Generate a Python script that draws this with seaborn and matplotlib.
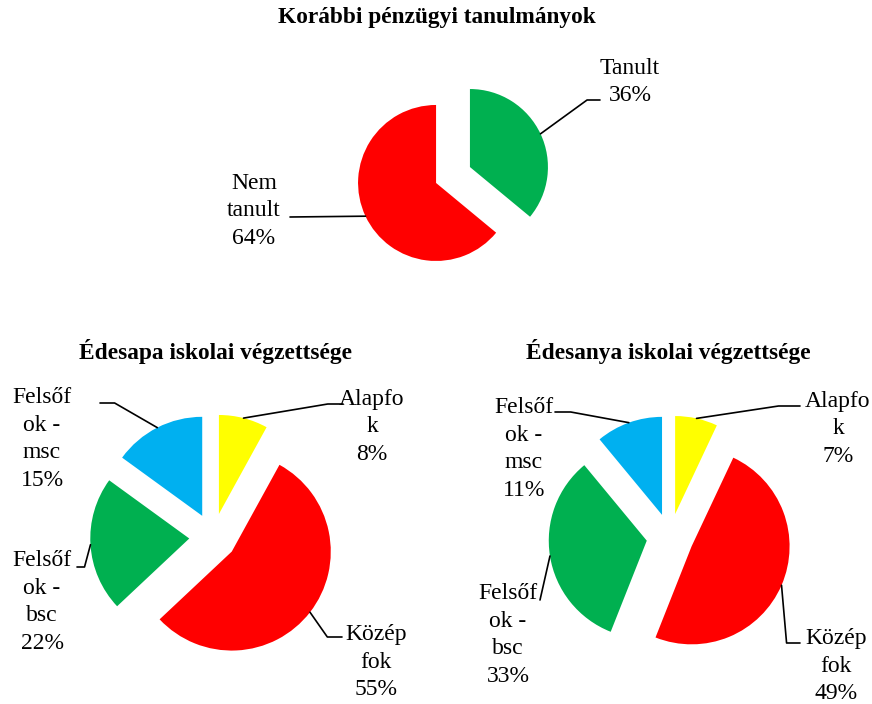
import numpy as np
import matplotlib
matplotlib.use("Agg")
import matplotlib.pyplot as plt
import seaborn as sns

W, H = 872, 704

# data
study_names = ["Tanult", "Nem\ntanult"]
study_values = [36, 64]
study_colors = ["#00B050", "#FF0000"]

edu_names = ["Alapfo\nk", "Közép\nfok", "Felsőf\nok -\nbsc", "Felsőf\nok -\nmsc"]
father_values = [8, 55, 22, 15]
mother_values = [7, 49, 33, 11]
edu_colors = ["#FFFF00", "#FF0000", "#00B050", "#00B0F0"]

titles = ["Korábbi pénzügyi tanulmányok",
          "Édesapa iskolai végzettsége",
          "Édesanya iskolai végzettsége"]


def px(x, y):
    # layout below is written in image pixels (y down)
    return x, H - y


# layout: title position, pie centre, radius, label centres, leader starts + kink angle
layout = [
    dict(values=study_values, names=study_names, colors=study_colors,
         title_pos=(437, 18), center=(453, 175), radius=78,
         text_pos=[(630, 82), (254, 211)],
         leaders=[((600, 100), 36), ((290, 217), None)]),
    dict(values=father_values, names=edu_names, colors=edu_colors,
         title_pos=(215, 351), center=(213, 537), radius=99,
         text_pos=[(372, 427), (376, 662), (42, 602), (42, 439)],
         leaders=[((343, 404), 9.5), ((342, 637), 125),
                  ((77, 567), 75), ((100, 403), -30)]),
    dict(values=mother_values, names=edu_names, colors=edu_colors,
         title_pos=(668, 351), center=(670, 537), radius=98,
         text_pos=[(838, 429), (836, 666), (508, 635), (524, 449)],
         leaders=[((800, 406), 8.6), ((800, 643), 95),
                  ((540, 600), None), ((555, 412), -10.4)]),
]

sns.set_theme(style="white")
plt.rcParams["font.family"] = ["Liberation Serif", "DejaVu Serif"]
plt.rcParams["text.color"] = "black"

fig = plt.figure(figsize=(W / 100, H / 100), dpi=100)
ax = fig.add_axes([0, 0, 1, 1])

for title, p in zip(titles, layout):
    n = len(p["values"])
    r = p["radius"]
    # explode is in data units, so scale it with the radius
    wedges, _ = ax.pie(p["values"], colors=p["colors"], startangle=90,
                       counterclock=False, explode=[0.24 * r] * n,
                       radius=r, center=px(*p["center"]),
                       frame=True, wedgeprops=dict(linewidth=0))
    ax.text(*px(*p["title_pos"]), title, ha="center", va="center",
            fontsize=16.8, fontweight="bold", color="black")

    for w, name, v, tpos, (start, ang) in zip(wedges, p["names"], p["values"],
                                               p["text_pos"], p["leaders"]):
        ax.text(*px(*tpos), f"{name}\n{v}%", ha="center", va="center",
                fontsize=17, linespacing=1.4, color="black")
        mid = np.deg2rad((w.theta1 + w.theta2) / 2)
        cx, cy = w.center
        xy = (cx + w.r * np.cos(mid), cy + w.r * np.sin(mid))
        style = "arc3" if ang is None else f"angle,angleA=0,angleB={ang},rad=0"
        ax.annotate("", xy=xy, xytext=px(*start),
                    arrowprops=dict(arrowstyle="-", color="black", lw=1.2,
                                    shrinkA=0, shrinkB=0, connectionstyle=style))

ax.set_xlim(0, W)
ax.set_ylim(0, H)
ax.set_aspect("equal")
ax.axis("off")

fig.savefig("out.png", dpi=100)
